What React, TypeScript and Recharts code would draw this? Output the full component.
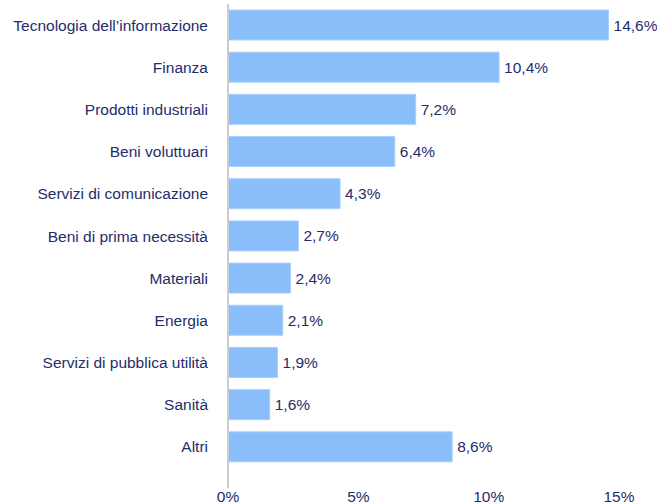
import React from "react";
import { BarChart, Bar, XAxis, YAxis, LabelList } from "recharts";

const categories = [
  "Tecnologia dell’informazione",
  "Finanza",
  "Prodotti industriali",
  "Beni voluttuari",
  "Servizi di comunicazione",
  "Beni di prima necessità",
  "Materiali",
  "Energia",
  "Servizi di pubblica utilità",
  "Sanità",
  "Altri",
];

const weights = [14.6, 10.4, 7.2, 6.4, 4.3, 2.7, 2.4, 2.1, 1.9, 1.6, 8.6];

const xTicks = [0, 5, 10, 15];

const data = categories.map((name, i) => ({ name, value: weights[i] }));

const textColor = "#1f2d6b";
const fontFamily = "'Liberation Sans', Arial, sans-serif";
const fontSize = 15.5;

const pct = (v: number) => `${String(v).replace(".", ",")}%`;
const pctLabel = (v: number) => `${v.toFixed(1).replace(".", ",")}%`;

export default function App() {
  return (
    <div style={{ position: "absolute", left: 0, top: 0 }}>
      <BarChart
        width={657}
        height={504}
        data={data}
        layout="vertical"
        margin={{ top: 4, right: 38, bottom: 0, left: 0 }}
        style={{ fontFamily }}
      >
        <XAxis
          type="number"
          domain={[0, 15]}
          ticks={xTicks}
          tickFormatter={pct}
          axisLine={false}
          tickLine={false}
          tickSize={0}
          tickMargin={3}
          height={16}
          interval={0}
          tick={{ fill: textColor, fontSize }}
        />
        <YAxis
          type="category"
          dataKey="name"
          width={228}
          axisLine={{ stroke: "#cccccc", strokeWidth: 2 }}
          tickLine={false}
          tickSize={0}
          tickMargin={20}
          interval={0}
          padding={{ top: 0, bottom: 20 }}
          tick={{ fill: textColor, fontSize }}
        />
        <Bar
          dataKey="value"
          fill="#8abefa"
          stroke="#a9d0fb"
          strokeWidth={1}
          barSize={30}
          isAnimationActive={false}
        >
          <LabelList
            dataKey="value"
            position="right"
            offset={5}
            formatter={(v: any) => pctLabel(Number(v))}
            style={{ fill: textColor, fontSize }}
          />
        </Bar>
      </BarChart>
    </div>
  );
}
